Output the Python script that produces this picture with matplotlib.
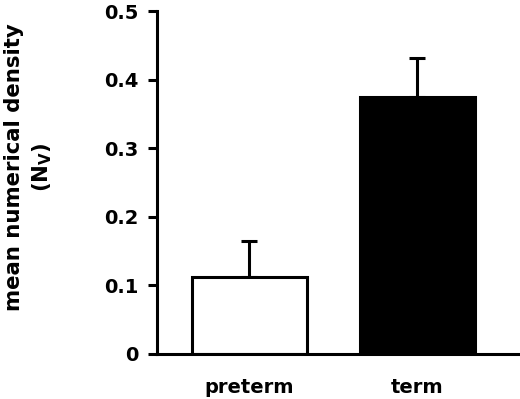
import matplotlib
matplotlib.use('Agg')
import matplotlib.pyplot as plt

categories = ['preterm', 'term']
means = [0.112, 0.375]
errors = [0.052, 0.057]
colors = ['white', 'black']

plt.rcParams['font.family'] = ['DejaVu Sans']
plt.rcParams['font.weight'] = 'bold'
plt.rcParams['mathtext.default'] = 'regular'

fig = plt.figure(figsize=(5.2, 3.99), dpi=100)
ax = fig.add_axes([0.302, 0.113, 0.694, 0.859])

x = list(range(len(categories)))
ax.bar(x, means, width=0.685, color=colors, edgecolor='black', linewidth=2.2, zorder=2)
ax.errorbar(x, means, yerr=[[0] * len(errors), errors], fmt='none', ecolor='black',
            elinewidth=2.2, capsize=5.5, capthick=2.2, zorder=1)

ax.set_xlim(-0.55, 1.6)
ax.set_ylim(0, 0.5)
ax.set_yticks([0, 0.1, 0.2, 0.3, 0.4, 0.5])
ax.set_yticklabels(['0', '0.1', '0.2', '0.3', '0.4', '0.5'])
ax.set_xticks(x)
ax.set_xticklabels(categories)

for side in ['top', 'right']:
    ax.spines[side].set_visible(False)
for side in ['left', 'bottom']:
    ax.spines[side].set_linewidth(2.2)

ax.tick_params(axis='y', length=6.5, width=2.2, labelsize=14, pad=7)
ax.tick_params(axis='x', length=0, labelsize=14, pad=17)

fig.text(29 / 520, 1 - 167 / 399, 'mean numerical density\n(N$_V$)', fontsize=15.3,
         fontweight='bold', rotation=90, ha='center', va='center',
         multialignment='center', linespacing=1.3)

fig.savefig('out.png', dpi=100)
